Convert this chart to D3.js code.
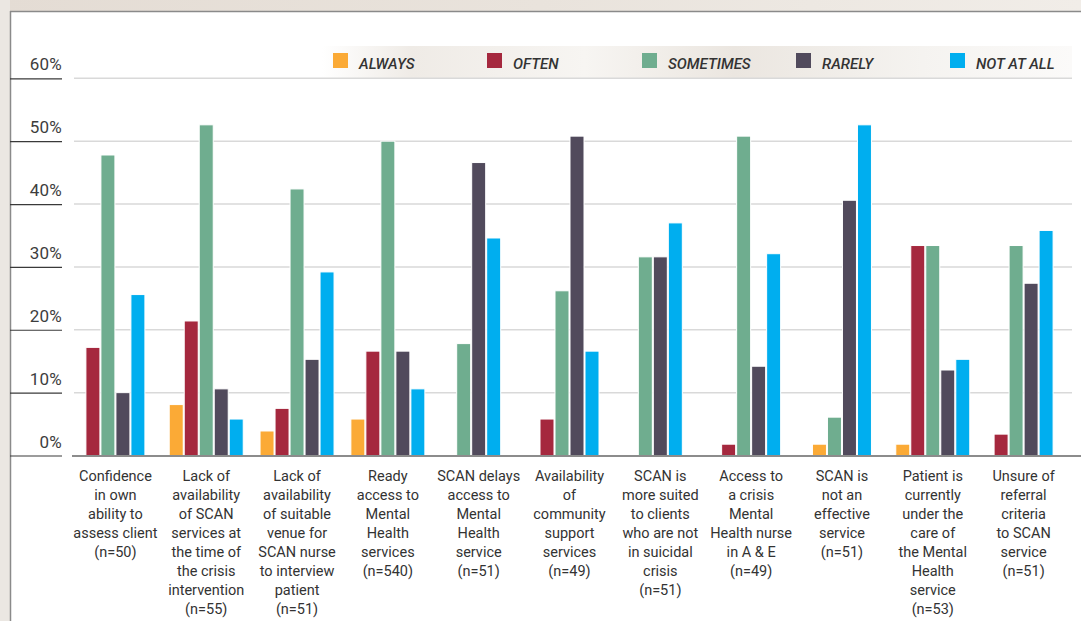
<!DOCTYPE html>
<html><head><meta charset="utf-8">
<script src="https://cdn.jsdelivr.net/npm/d3@7"></script>
<style>
html,body{margin:0;padding:0;background:#fff;}
svg{display:block;}
</style></head>
<body>
<svg id="chart" width="1081" height="621"></svg>
<script>
const categories = [
  ["Confidence","in own","ability to","assess client","(n=50)"],
  ["Lack of","availability","of SCAN","services at","the time of","the crisis","intervention","(n=55)"],
  ["Lack of","availability","of suitable","venue for","SCAN nurse","to interview","patient","(n=51)"],
  ["Ready","access to","Mental","Health","services","(n=540)"],
  ["SCAN delays","access to","Mental","Health","service","(n=51)"],
  ["Availability","of","community","support","services","(n=49)"],
  ["SCAN is","more suited","to clients","who are not","in suicidal","crisis","(n=51)"],
  ["Access to","a crisis","Mental","Health nurse","in A & E","(n=49)"],
  ["SCAN is","not an","effective","service","(n=51)"],
  ["Patient is","currently","under the","care of","the Mental","Health","service","(n=53)"],
  ["Unsure of","referral","criteria","to SCAN","service","(n=51)"]
];
const seriesNames = ["ALWAYS","OFTEN","SOMETIMES","RARELY","NOT AT ALL"];
const seriesColors = ["#fbaa36","#a5283e","#6fad8f","#514a5c","#00aeef"];
// null = no bar drawn
const always    = [null, 8.1, 3.9, 5.8, null, null, null, null, 1.8, 1.8, null];
const often     = [17.2, 21.4, 7.5, 16.6, null, 5.8, null, 1.8, null, 33.4, 3.4];
const sometimes = [47.8, 52.6, 42.4, 50.0, 17.8, 26.2, 31.6, 50.8, 6.1, 33.4, 33.4];
const rarely    = [10.0, 10.6, 15.3, 16.6, 46.6, 50.8, 31.6, 14.2, 40.6, 13.6, 27.4];
const notAtAll  = [25.6, 5.8, 29.2, 10.6, 34.6, 16.6, 37.0, 32.1, 52.6, 15.3, 35.8];
const yTicks = [0,10,20,30,40,50,60];

const series = [always, often, sometimes, rarely, notAtAll];
const svg = d3.select("#chart");
const W = 1081, H = 621;

// background frame
const defs = svg.append("defs");
const g1 = defs.append("linearGradient").attr("id","topbg").attr("x1","0").attr("x2","1");
g1.append("stop").attr("offset","0").attr("stop-color","#e4dcd4");
g1.append("stop").attr("offset","0.5").attr("stop-color","#e9e3dc");
g1.append("stop").attr("offset","1").attr("stop-color","#f1ede8");
const g2 = defs.append("linearGradient").attr("id","legbg").attr("x1","0").attr("x2","1");
g2.append("stop").attr("offset","0").attr("stop-color","#ffffff");
g2.append("stop").attr("offset","0.12").attr("stop-color","#efebe6");
g2.append("stop").attr("offset","0.35").attr("stop-color","#f7f5f2");
g2.append("stop").attr("offset","0.55").attr("stop-color","#ebe6e0");
g2.append("stop").attr("offset","0.8").attr("stop-color","#f5f3f0");
g2.append("stop").attr("offset","1").attr("stop-color","#fbfaf9");

svg.append("rect").attr("x",0).attr("y",0).attr("width",W).attr("height",11).attr("fill","url(#topbg)");
svg.append("rect").attr("x",0).attr("y",0).attr("width",10).attr("height",H).attr("fill","#ebe7e2");
svg.append("line").attr("x1",10).attr("x2",W).attr("y1",11.5).attr("y2",11.5).attr("stroke","#8a8a8a").attr("stroke-width",1.5);
svg.append("line").attr("x1",10.5).attr("x2",10.5).attr("y1",11).attr("y2",H).attr("stroke","#8a8a8a").attr("stroke-width",1.5);

// scales
const x = d3.scaleBand().domain(d3.range(categories.length)).range([70, 1069]).padding(0);
const y = d3.scaleLinear().domain([0, 60]).range([455.5, 78.3]);

// legend band
svg.append("rect").attr("x",322).attr("y",46).attr("width",750).attr("height",32).attr("fill","url(#legbg)");

// gridlines
svg.append("g").selectAll("line").data(yTicks.filter(d=>d>0)).join("line")
  .attr("x1",74).attr("x2",1072).attr("y1",d=>y(d)).attr("y2",d=>y(d))
  .attr("stroke","#d9d9d9").attr("stroke-width",1.5);

// left ticks + labels
const yAxis = d3.axisLeft(y).tickValues(yTicks).tickSize(52).tickFormat(d=>d+"%");
const ya = svg.append("g").attr("transform","translate(62,0)").call(yAxis);
ya.select(".domain").remove();
ya.selectAll(".tick line").attr("stroke","#3a3a3a").attr("stroke-width",1.2);
ya.selectAll(".tick text").attr("x",0).attr("dy",0).attr("y",-8.5)
  .attr("text-anchor","end").attr("font-family","Roboto, 'Open Sans', sans-serif")
  .attr("font-size",17).attr("fill","#3d3d3d").style("letter-spacing","0.2px");

// bars
const bw = 14, step = 15;
const groups = svg.append("g").selectAll("g").data(categories.map((c,i)=>i)).join("g");
groups.each(function(i){
  const present = series.map((s,k)=>({k, v:s[i]})).filter(d=>d.v!==null);
  const cx = x(i) + x.bandwidth()/2;
  const start = cx - (present.length*step - (step-bw))/2;
  d3.select(this).selectAll("rect").data(present).join("rect")
    .attr("x",(d,j)=>start + j*step)
    .attr("width",bw)
    .attr("y",d=>y(d.v))
    .attr("height",d=>y(0)-y(d.v))
    .attr("fill",d=>seriesColors[d.k])
    .attr("stroke","#ffffff").attr("stroke-width",1);
});

// baseline
svg.append("line").attr("x1",72).attr("x2",W).attr("y1",456).attr("y2",456).attr("stroke","#8c8c8c").attr("stroke-width",2);

// x labels
const xl = svg.append("g").selectAll("text").data(categories).join("text")
  .attr("x",(d,i)=>x(i)+x.bandwidth()/2)
  .attr("y",480.5)
  .attr("text-anchor","middle")
  .attr("font-family","Roboto, sans-serif")
  .attr("font-size",14.5)
  .attr("fill","#333");
xl.selectAll("tspan").data(d=>d).join("tspan")
  .attr("x",function(){return this.parentNode.getAttribute("x");})
  .attr("dy",(d,j)=>j===0?0:19)
  .text(d=>d);

// legend
const legX = [333, 487, 642, 796, 950];
const leg = svg.append("g").selectAll("g").data(seriesNames).join("g")
  .attr("transform",(d,i)=>`translate(${legX[i]},53)`);
leg.append("rect").attr("width",15).attr("height",15).attr("fill",(d,i)=>seriesColors[i]);
leg.append("text").attr("x",26).attr("y",15.5)
  .attr("font-family","Roboto, sans-serif").attr("font-size",15)
  .attr("font-style","italic").attr("font-weight",500).attr("fill","#333")
  .text(d=>d);
</script>
</body></html>
